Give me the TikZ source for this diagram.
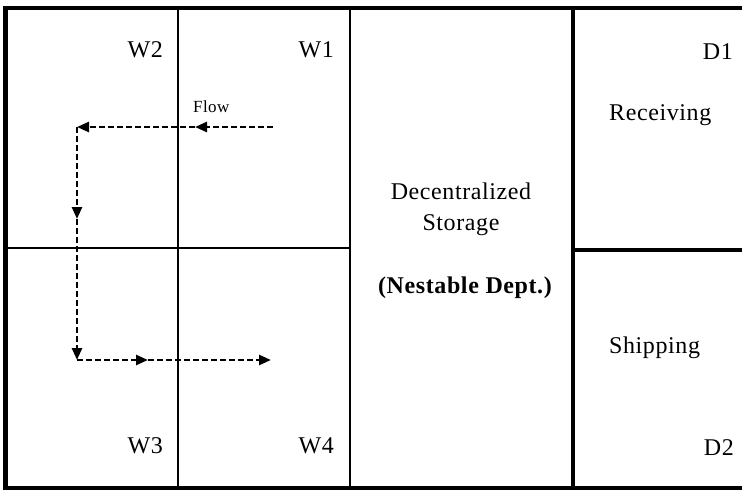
\documentclass[tikz,border=0pt]{standalone}
\usepackage{fontspec}
\setmainfont{Liberation Serif}[LetterSpace=2.5]
\usetikzlibrary{arrows.meta}
\begin{document}
\begin{tikzpicture}[x=1pt,y=-1pt,
  thin wall/.style={line width=2pt},
  thick wall/.style={line width=4.5pt},
  lbl/.style={inner sep=0pt,font=\fontsize{24}{28}\selectfont},
  flowline/.style={line width=2.6pt,dash pattern=on 6pt off 3pt,-{Triangle[length=12pt,width=10pt]}}]
\useasboundingbox (0,0) rectangle (742,492);
% walls
\draw[thin wall] (178,8) -- (178,488);
\draw[thin wall] (350,8) -- (350,488);
\draw[thin wall] (5,248) -- (350,248);
\draw[thick wall] (573,8) -- (573,488);
\draw[thick wall] (573,250) -- (742,250);
\draw[thick wall] (3,8) -- (742,8);
\draw[thick wall] (3,488) -- (742,488);
\draw[line width=5pt] (5.5,6) -- (5.5,490);
% labels
\node[lbl,anchor=base east] (w2) at (163,58) {W2};
\node[lbl,anchor=base east] (w1) at (334,58) {W1};
\node[lbl,anchor=base east] (w3) at (163,453) {W3};
\node[lbl,anchor=base east] (w4) at (334,453) {W4};
\node[lbl,anchor=base east] (d1) at (733,60) {D1};
\node[lbl,anchor=base east] (d2) at (734,455) {D2};
\node[lbl,anchor=base west] (rec) at (609,121) {Receiving};
\node[lbl,anchor=base west] (ship) at (609,353) {Shipping};
\node[lbl,anchor=base] (dec) at (461,200) {Decentralized};
\node[lbl,anchor=base] (sto) at (461,230) {Storage};
\node[lbl,anchor=base,font=\fontsize{24}{28}\selectfont\bfseries] (nest) at (465,293) {(Nestable Dept.)};
\node[inner sep=0pt,anchor=base west,font=\fontsize{17}{20}\selectfont] (flow) at (193,113) {Flow};
% flow path
\coordinate (s) at (273,127);
\coordinate (m1) at (195,127);
\coordinate (c1) at (77,127);
\coordinate (m2) at (77,219);
\coordinate (c2) at (77,360);
\coordinate (m3) at (148,360);
\coordinate (e) at (271,360);
\draw[flowline] (s) -- (m1);
\draw[flowline] (m1) -- (c1);
\draw[flowline] (c1) -- (m2);
\draw[flowline] (m2) -- (c2);
\draw[flowline] (c2) -- (m3);
\draw[flowline] (m3) -- (e);
\end{tikzpicture}
\end{document}
